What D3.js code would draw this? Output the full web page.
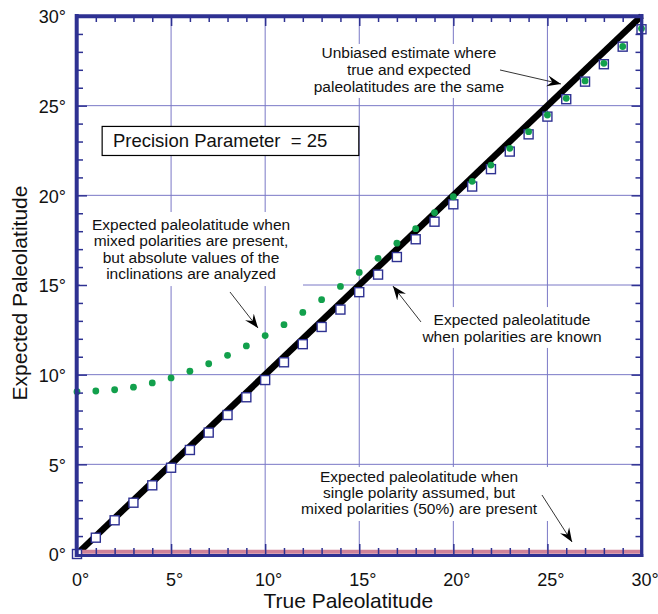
<!DOCTYPE html>
<html>
<head>
<meta charset="utf-8">
<script src="https://cdn.jsdelivr.net/npm/d3@7"></script>
<style>
  html, body { margin: 0; padding: 0; background: #fff; }
  svg { display: block; font-family: "Liberation Sans", Arial, Helvetica, sans-serif; }
</style>
</head>
<body>
<svg id="chart" width="658" height="614"></svg>
<script>
// True paleolatitude (degrees), one sample per degree
const truePaleolat = d3.range(0, 31);

// Expected paleolatitude when polarities are known (open squares)
const expectedKnown = [0, 0.91, 1.88, 2.86, 3.83, 4.81, 5.80, 6.77, 7.75, 8.74,
  9.70, 10.69, 11.70, 12.66, 13.63, 14.60, 15.58, 16.56, 17.55, 18.53,
  19.50, 20.49, 21.46, 22.44, 23.40, 24.39, 25.36, 26.34, 27.31, 28.29, 29.26];

// Expected paleolatitude, mixed polarities, absolute inclinations (green dots)
const expectedAbsolute = [9.05, 9.09, 9.16, 9.30, 9.54, 9.82, 10.19, 10.61, 11.08, 11.60,
  12.18, 12.79, 13.47, 14.18, 14.92, 15.70, 16.49, 17.33, 18.14, 19.04,
  19.92, 20.78, 21.69, 22.62, 23.55, 24.48, 25.41, 26.38, 27.36, 28.30, 29.30];

// Single polarity assumed with 50% mixed polarities: expected value is zero
const expectedSingle = truePaleolat.map(() => 0);

// Unbiased reference: expected equals true
const unbiasedEnds = [0, 30];

const majorTicks = [0, 5, 10, 15, 20, 25, 30];
const minorTicks = d3.range(0, 31);
const tickLabel = d => d + "°";

const svg = d3.select("#chart");
const x = d3.scaleLinear().domain([0, 30]).range([77, 641.5]);
const y = d3.scaleLinear().domain([0, 30]).range([554, 16]);

const frameColor = "#2e3192";
const gridColor = "#7a78c6";
const font = "'Liberation Sans', Arial, Helvetica, sans-serif";

// Grid lines every 5 degrees
const grid = svg.append("g");
grid.selectAll("line.v").data(majorTicks.slice(1, -1)).join("line")
  .attr("x1", d => x(d)).attr("x2", d => x(d))
  .attr("y1", y(30)).attr("y2", y(0))
  .attr("stroke", gridColor).attr("stroke-width", 1);
grid.selectAll("line.h").data(majorTicks.slice(1, -1)).join("line")
  .attr("y1", d => y(d)).attr("y2", d => y(d))
  .attr("x1", x(0)).attr("x2", x(30))
  .attr("stroke", gridColor).attr("stroke-width", 1);

// White backing panels behind the notes (in data units)
const panels = [
  { x0: 12.12, x1: 24.6, y0: 28.44, y1: 25.43 },
  { x0: 0.16, x1: 12.01, y0: 19.07, y1: 14.94 },
  { x0: 18.23, x1: 28.33, y0: 13.77, y1: 11.49 },
  { x0: 11.59, x1: 25.24, y0: 4.85, y1: 1.84 }
];
svg.append("g").selectAll("rect").data(panels).join("rect")
  .attr("x", d => x(d.x0)).attr("y", d => y(d.y0))
  .attr("width", d => x(d.x1) - x(d.x0)).attr("height", d => y(d.y1) - y(d.y0))
  .attr("fill", "#fff");

// Precision parameter box
const pBox = { x0: 1.31, x1: 14.95, y0: 23.87, y1: 22.25, tx: 1.91, ty: 22.71 };
svg.append("rect")
  .attr("x", x(pBox.x0) + 0.5).attr("y", y(pBox.y0) + 0.5)
  .attr("width", x(pBox.x1) - x(pBox.x0)).attr("height", y(pBox.y1) - y(pBox.y0))
  .attr("fill", "#fff").attr("stroke", "#000").attr("stroke-width", 1.2);
svg.append("text")
  .attr("x", x(pBox.tx)).attr("y", y(pBox.ty))
  .attr("font-size", 18.5).attr("fill", "#111")
  .attr("xml:space", "preserve")
  .text("Precision Parameter  = 25");

// Unbiased 1:1 line
svg.append("line")
  .attr("x1", x(unbiasedEnds[0])).attr("y1", y(unbiasedEnds[0]))
  .attr("x2", x(unbiasedEnds[1])).attr("y2", y(unbiasedEnds[1]))
  .attr("stroke", "#000").attr("stroke-width", 6.5);

// Single-polarity result, drawn resting on the x axis
svg.append("path")
  .datum(truePaleolat.map((t, i) => [t, expectedSingle[i]]))
  .attr("d", d3.line().x(d => x(d[0])).y(d => y(d[1]) - 2.3))
  .attr("stroke", "#cf8299").attr("stroke-width", 4).attr("fill", "none");

// Open squares: polarities known
const sq = 9;
svg.append("g").selectAll("rect").data(truePaleolat).join("rect")
  .attr("x", (d) => x(d) - sq / 2).attr("y", (d, i) => y(expectedKnown[i]) - sq / 2)
  .attr("width", sq).attr("height", sq)
  .attr("fill", "#fff").attr("stroke", "#2e3192").attr("stroke-width", 1.4);

// Green dots: absolute inclinations
svg.append("g").selectAll("circle").data(truePaleolat).join("circle")
  .attr("cx", d => x(d)).attr("cy", (d, i) => y(expectedAbsolute[i]))
  .attr("r", 3.4).attr("fill", "#12a04c");

// Frame
const frame = svg.append("g").attr("stroke", frameColor);
frame.append("line").attr("x1", x(0) - 0.3).attr("x2", x(0) - 0.3)
  .attr("y1", y(30) - 2).attr("y2", y(0) + 3).attr("stroke-width", 4);
frame.append("line").attr("x1", x(0) - 2).attr("x2", x(30) + 1.8)
  .attr("y1", y(30) + 0.3).attr("y2", y(30) + 0.3).attr("stroke-width", 4);
frame.append("line").attr("x1", x(30) + 0.2).attr("x2", x(30) + 0.2)
  .attr("y1", y(30) - 2).attr("y2", y(0) + 3).attr("stroke-width", 3.3);
frame.append("line").attr("x1", x(0) - 2).attr("x2", x(30) + 1.8)
  .attr("y1", y(0) + 1.5).attr("y2", y(0) + 1.5).attr("stroke-width", 3);

// Inward ticks on all four sides
function styleTicks(g) {
  g.select(".domain").remove();
  g.selectAll("text").remove();
  g.selectAll("line").attr("stroke", frameColor).attr("stroke-width", 1.5);
}
const minorOnly = minorTicks.filter(d => d % 5 !== 0);
const innerMajor = majorTicks.slice(1, -1);
svg.append("g").attr("transform", `translate(0,${y(0)})`)
  .call(d3.axisBottom(x).tickValues(minorOnly).tickSize(-6)).call(styleTicks);
svg.append("g").attr("transform", `translate(0,${y(0)})`)
  .call(d3.axisBottom(x).tickValues(innerMajor).tickSize(-10)).call(styleTicks);
svg.append("g").attr("transform", `translate(0,${y(30)})`)
  .call(d3.axisTop(x).tickValues(minorOnly).tickSize(-6)).call(styleTicks);
svg.append("g").attr("transform", `translate(0,${y(30)})`)
  .call(d3.axisTop(x).tickValues(innerMajor).tickSize(-10)).call(styleTicks);
svg.append("g").attr("transform", `translate(${x(0)},0)`)
  .call(d3.axisLeft(y).tickValues(minorOnly).tickSize(-6)).call(styleTicks);
svg.append("g").attr("transform", `translate(${x(0)},0)`)
  .call(d3.axisLeft(y).tickValues(innerMajor).tickSize(-10)).call(styleTicks);
svg.append("g").attr("transform", `translate(${x(30)},0)`)
  .call(d3.axisRight(y).tickValues(minorOnly).tickSize(-6)).call(styleTicks);
svg.append("g").attr("transform", `translate(${x(30)},0)`)
  .call(d3.axisRight(y).tickValues(innerMajor).tickSize(-10)).call(styleTicks);

// Tick labels
function styleLabels(g) {
  g.select(".domain").remove();
  g.selectAll("line").remove();
  g.selectAll("text").attr("font-family", font).attr("font-size", 18).attr("fill", "#111");
}
svg.append("g").attr("transform", `translate(3,${y(0) + 16})`)
  .call(d3.axisBottom(x).tickValues(majorTicks).tickSize(0).tickFormat(tickLabel))
  .call(styleLabels);
svg.append("g").attr("transform", `translate(${x(0) - 8},1)`)
  .call(d3.axisLeft(y).tickValues(majorTicks).tickSize(0).tickFormat(tickLabel))
  .call(styleLabels);

// Axis titles
svg.append("text")
  .attr("x", (x(0) + x(30)) / 2 - 11).attr("y", 608)
  .attr("text-anchor", "middle").attr("font-size", 21).attr("fill", "#111")
  .text("True Paleolatitude");
svg.append("text")
  .attr("transform", `translate(27,${(y(0) + y(30)) / 2 + 8}) rotate(-90)`)
  .attr("text-anchor", "middle").attr("font-size", 21).attr("fill", "#111")
  .text("Expected Paleolatitude");

// Notes with arrows (anchors in data units)
const notes = [
  { cx: 17.64, top: 27.64, lh: 16.7,
    lines: ["Unbiased estimate where", "true and expected", "paleolatitudes are the same"],
    arrow: [[22.48, 26.99], [25.72, 26.21]] },
  { cx: 6.06, top: 18.07, lh: 16.4,
    lines: ["Expected paleolatitude when", "mixed polarities are present,", "but absolute values of  the", "inclinations are analyzed"],
    arrow: [[8.13, 14.61], [9.62, 12.60]] },
  { cx: 23.12, top: 12.77, lh: 16.7,
    lines: ["Expected paleolatitude", "when polarities are known"],
    arrow: [[18.28, 12.94], [16.79, 14.94]] },
  { cx: 18.18, top: 4.03, lh: 16.2,
    lines: ["Expected paleolatitude when", "single polarity assumed, but", "mixed polarities (50%) are present"],
    arrow: [[24.71, 3.29], [26.31, 0.67]] }
];

svg.append("defs").append("marker")
  .attr("id", "head").attr("viewBox", "-14 -6 16 12")
  .attr("refX", 0).attr("refY", 0)
  .attr("markerWidth", 16).attr("markerHeight", 12)
  .attr("markerUnits", "userSpaceOnUse").attr("orient", "auto")
  .append("path").attr("d", "M0,0 L-14,-5.5 L-9,0 L-14,5.5 Z").attr("fill", "#000");

notes.forEach(n => {
  const t = svg.append("text").attr("text-anchor", "middle")
    .attr("font-size", 15.5).attr("fill", "#111");
  n.lines.forEach((s, i) => {
    t.append("tspan").attr("x", x(n.cx)).attr("y", y(n.top) + i * n.lh).text(s);
  });
  svg.append("line")
    .attr("x1", x(n.arrow[0][0])).attr("y1", y(n.arrow[0][1]))
    .attr("x2", x(n.arrow[1][0])).attr("y2", y(n.arrow[1][1]))
    .attr("stroke", "#000").attr("stroke-width", 0.8)
    .attr("marker-end", "url(#head)");
});
</script>
</body>
</html>
